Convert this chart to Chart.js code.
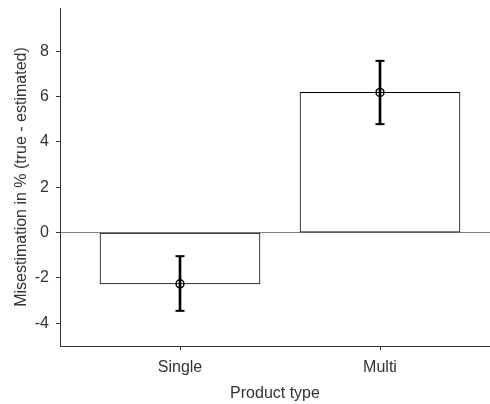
<!DOCTYPE html>
<html>
<head>
<meta charset="utf-8">
<script src="https://cdn.jsdelivr.net/npm/chart.js@4/dist/chart.umd.min.js"></script>
<style>
  body { margin: 0; background: #fff; }
</style>
</head>
<body>
<canvas id="myChart" width="490" height="404"></canvas>
<script>
// values
var categories = ['Single', 'Multi'];
var catPos = [1, 2];
var means = [-2.26, 6.18];
var errLow = [-3.45, 4.78];
var errHigh = [-1.04, 7.57];
var yTicks = [-4, -2, 0, 2, 4, 6, 8];

var barData = [], whiskerData = [], capData = [], meanData = [];
for (let i = 0; i < categories.length; i++) {
    barData.push({x: catPos[i], y: means[i]});
    whiskerData.push({x: catPos[i], y: [errLow[i], errHigh[i]]});
    capData.push({x: catPos[i], y: errLow[i]});
    capData.push({x: catPos[i], y: errHigh[i]});
    meanData.push({x: catPos[i], y: means[i]});
}

Chart.defaults.font.family = "'Liberation Sans', Arial, Helvetica, sans-serif";
Chart.defaults.font.size = 16;
Chart.defaults.color = '#333';

var ctx = document.getElementById('myChart').getContext('2d');
var chart = new Chart(ctx, {
    type: 'bar',
    data: {
        datasets: [{
            type: 'scatter',
            order: 0,
            data: meanData,
            pointStyle: 'circle',
            pointRadius: 4,
            backgroundColor: 'rgba(0,0,0,0)',
            borderColor: '#000',
            borderWidth: 1.5
        }, {
            type: 'scatter',
            order: 1,
            data: capData,
            pointStyle: 'line',
            pointRadius: 4.5,
            borderColor: '#000',
            borderWidth: 2
        }, {
            type: 'bar',
            order: 2,
            data: whiskerData,
            grouped: false,
            barThickness: 2,
            backgroundColor: '#000',
            borderWidth: 0
        }, {
            type: 'bar',
            order: 3,
            data: barData,
            grouped: false,
            barThickness: 160,
            backgroundColor: '#fff',
            borderColor: '#000',
            borderWidth: 1,
            borderSkipped: false
        }]
    },
    options: {
        responsive: false,
        animation: false,
        layout: { padding: 0, autoPadding: false },
        plugins: { legend: { display: false }, tooltip: { enabled: false } },
        scales: {
            x: {
                type: 'linear',
                min: 0.4,
                max: 2.55,
                offset: false,
                afterFit: (scale) => {
                    scale.height = 58;
                    scale.paddingLeft = 0;
                    scale.paddingRight = 0;
                },
                afterBuildTicks: (scale) => { scale.ticks = catPos.map(v => ({value: v})); },
                ticks: {
                    padding: 8,
                    maxRotation: 0,
                    callback: (v) => categories[catPos.indexOf(v)]
                },
                grid: { offset: false, drawOnChartArea: false, drawTicks: true, tickLength: 4, tickColor: '#333' },
                border: { display: true, color: '#333', width: 1 },
                title: { display: true, text: 'Product type', padding: { top: 0, bottom: 1 } }
            },
            y: {
                min: -5,
                max: 9.9,
                afterFit: (scale) => {
                    scale.width = 60;
                    scale.paddingTop = 8;
                    scale.paddingBottom = 0;
                },
                afterBuildTicks: (scale) => { scale.ticks = yTicks.map(v => ({value: v})); },
                ticks: { padding: 7 },
                grid: {
                    color: (c) => (c.tick && c.tick.value === 0) ? '#808080' : 'rgba(0,0,0,0)',
                    drawTicks: true,
                    tickLength: 4,
                    tickColor: '#333'
                },
                border: { display: true, color: '#333', width: 1 },
                title: { display: true, text: 'Misestimation in % (true - estimated)', padding: { top: 12, bottom: 0 } }
            }
        }
    }
});
</script>
</body>
</html>
